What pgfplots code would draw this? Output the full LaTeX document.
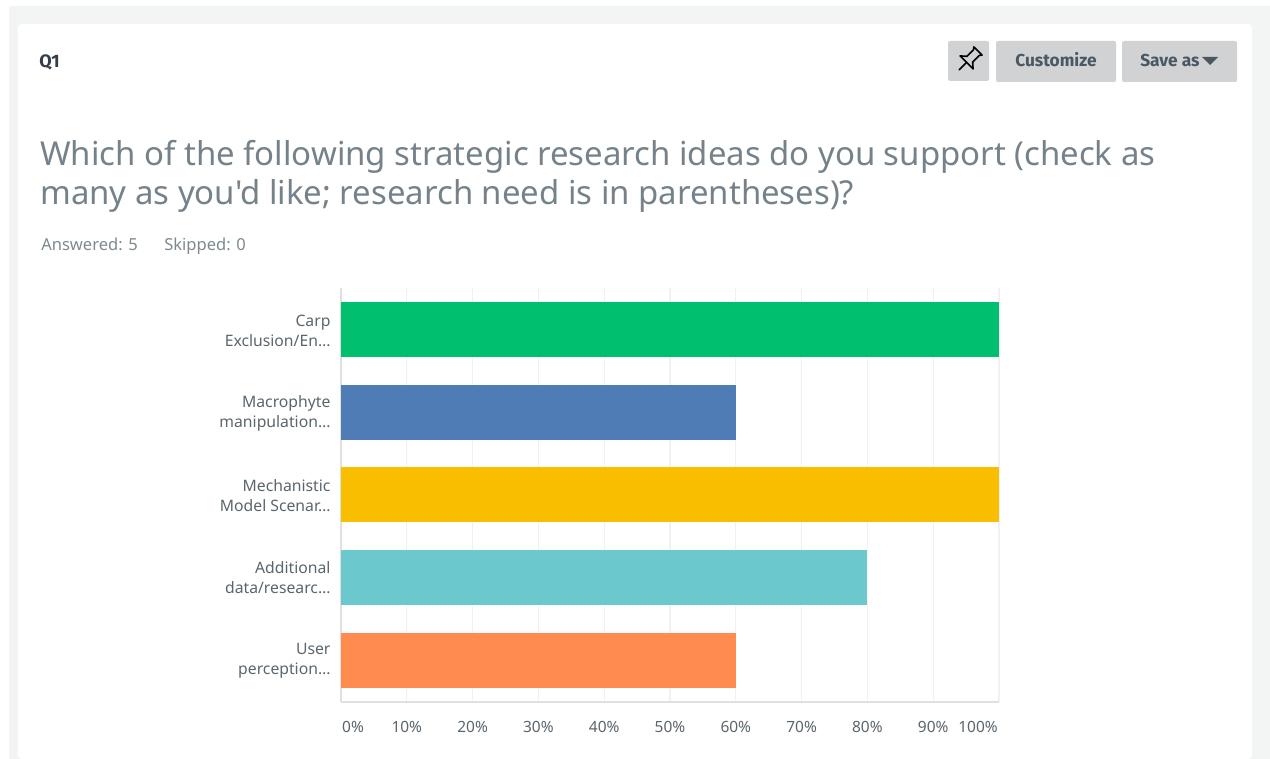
\documentclass[border=0pt]{standalone}
\usepackage{pgfplots}
\pgfplotsset{compat=1.18}
\usepackage{fontspec}
\setmainfont{Noto Sans}
\newfontfamily\lightfont{Noto Sans}
\newfontfamily\headfont{Fira Sans}
\definecolor{pagebg}{HTML}{F3F5F5}
\definecolor{btn}{HTML}{D0D2D3}
\definecolor{headtxt}{HTML}{333E48}
\definecolor{btntxt}{HTML}{4A5863}
\definecolor{titletxt}{HTML}{75828A}
\definecolor{subtxt}{HTML}{7D8A90}
\definecolor{ticktxt}{HTML}{5A666E}
\definecolor{axisline}{HTML}{E0E0E0}
\definecolor{gridline}{HTML}{F1F1F1}
\definecolor{cgreen}{HTML}{00BF6F}
\definecolor{cblue}{HTML}{507CB6}
\definecolor{cyellow}{HTML}{F9BE00}
\definecolor{cteal}{HTML}{6BC8CD}
\definecolor{corange}{HTML}{FF8B4F}
\newcommand{\trunc}{\ldots}
\begin{document}
\begin{tikzpicture}[x=0.75pt,y=0.75pt]
\useasboundingbox (0,0) rectangle (1270,759);
% page, card and header controls (y measured upward from the bottom edge)
\fill[white] (0,0) rectangle (1270,759);
\fill[pagebg] (9,0) rectangle (1270,753);
\fill[white,rounded corners=3pt] (18,0) -- (18,735) -- (1252,735) -- (1252,0) -- cycle;
\node[anchor=base west,inner sep=0pt,text=headtxt,font=\fontsize{13.5}{16}\selectfont\headfont\bfseries] at (39,691) {Q1};
\fill[btn,rounded corners=1.5pt] (948,678) rectangle (989,718);
\fill[btn,rounded corners=1.5pt] (996,677) rectangle (1116,718);
\fill[btn,rounded corners=1.5pt] (1122,677) rectangle (1237,718);
% pushpin
\begin{scope}[shift={(969,699)},rotate=-45,scale=1.15,line width=1.2pt,draw=black,line join=round,line cap=round]
\draw (-5,11) -- (5,11) -- (3.5,9) -- (3.5,1) -- (8,-3) -- (-8,-3) -- (-3.5,1) -- (-3.5,9) -- cycle;
\draw (0,-3) -- (0,-12);
\end{scope}
\node[anchor=base,inner sep=0pt,text=btntxt,font=\fontsize{13}{15}\selectfont\headfont\bfseries] at (1056,692) {Customize};
\node[anchor=base west,inner sep=0pt,text=btntxt,font=\fontsize{13}{15}\selectfont\headfont\bfseries] at (1140,692) {Save as};
\fill[btntxt] (1202,702) -- (1218,702) -- (1210,694) -- cycle;
\node[anchor=base west,inner sep=0pt,text=titletxt,font=\fontsize{24.7}{30}\selectfont\lightfont] at (40,593) {Which of the following strategic research ideas do you support (check as};
\node[anchor=base west,inner sep=0pt,text=titletxt,font=\fontsize{24.7}{30}\selectfont\lightfont] at (40,554) {many as you'd like; research need is in parentheses)?};
\node[anchor=base west,inner sep=0pt,text=subtxt,font=\fontsize{12.4}{14}\selectfont] at (41,508) {Answered: 5};
\node[anchor=base west,inner sep=0pt,text=subtxt,font=\fontsize{12.4}{14}\selectfont] at (164,508) {Skipped: 0};
\begin{axis}[
  at={(255.75pt,42.75pt)},anchor=south west,
  scale only axis,width=493.5pt,height=310.5pt,
  xmin=0,xmax=100,ymin=-0.509,ymax=4.509,y dir=reverse,
  axis x line=bottom,axis y line=left,
  axis line style={draw=axisline,line width=1.5pt,-},
  xtick={0,10,...,100},ytick={0,1,2,3,4},
  major tick length=0pt,
  xmajorgrids,
  grid style={draw=gridline,line width=0.9pt},
  xticklabels={
    {\makebox[0pt][c]{\hspace*{18pt}0\%}},10\%,20\%,30\%,40\%,50\%,60\%,70\%,80\%,90\%,
    {\makebox[0pt][c]{100\%\hspace*{31.5pt}}}},
  yticklabels={
    {Carp\\Exclusion/En\trunc},
    {Macrophyte\\manipulation\trunc},
    {Mechanistic\\Model Scenar\trunc},
    {Additional\\data/researc\trunc},
    {User\\perception\trunc}},
  x tick label style={font=\fontsize{11.6}{13}\selectfont,text=ticktxt,inner sep=0pt,yshift=-14.5pt},
  y tick label style={font=\fontsize{11.8}{15}\selectfont,text=ticktxt,align=right,inner sep=0pt,xshift=-7.7pt,yshift=-0.4pt},
  xbar,bar shift=0pt,bar width=41.25pt,
  clip=false,
]
\addplot[draw=none,fill=cgreen] coordinates {(100,0)};
\addplot[draw=none,fill=cblue] coordinates {(60,1)};
\addplot[draw=none,fill=cyellow] coordinates {(100,2)};
\addplot[draw=none,fill=cteal] coordinates {(80,3)};
\addplot[draw=none,fill=corange] coordinates {(60,4)};
\end{axis}
\end{tikzpicture}
\end{document}
